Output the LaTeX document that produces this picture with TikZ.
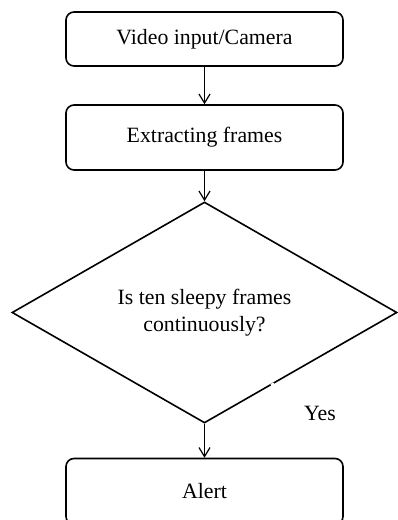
\documentclass[tikz,border=0pt]{standalone}
\usepackage{fontspec}
\setmainfont{Liberation Serif}
\usetikzlibrary{shapes.geometric,arrows.meta,calc}
\tikzset{
  procbox/.style={draw, rounded corners=8pt, line width=1.6pt, minimum width=277pt, inner sep=0pt, font=\fontsize{21.8}{27}\selectfont},
  decbox/.style={draw, diamond, aspect=1.742, line width=1.6pt, minimum width=385pt, minimum height=221pt, inner sep=0pt, align=center, font=\fontsize{21.8}{27}\selectfont},
  flow/.style={line width=1.2pt, -{Straight Barb[length=9pt,width=11pt,line width=1.2pt]}},
  lbl/.style={font=\fontsize{21.8}{27}\selectfont, inner sep=0pt}
}
\begin{document}
\begin{tikzpicture}[x=1pt,y=-1pt]
\useasboundingbox (0,0) rectangle (398,520);
\fill[white] (0,0) rectangle (398,520);
\clip (0,0) rectangle (398,520);
\node[procbox, minimum height=54pt] (v) at (204.5,39) {Video input/Camera};
\node[procbox, minimum height=65pt] (e) at (204.5,137.5) {Extracting frames};
\node[decbox] (d) at (204.5,312.5) {Is ten sleepy frames\\continuously?};
\node[procbox, minimum height=66pt] (a) at (204.5,491.5) {Alert};
\node[lbl] (y) at (320,413) {Yes};
\draw[flow] (v.south) -- (e.north);
\draw[flow] (e.south) -- (d.north);
\draw[flow] (d.south) -- (a.north);
\draw[white, line width=3pt] ($(d.east)!0.64!(d.south)$) -- ($(d.east)!0.655!(d.south)$);
\end{tikzpicture}
\end{document}
